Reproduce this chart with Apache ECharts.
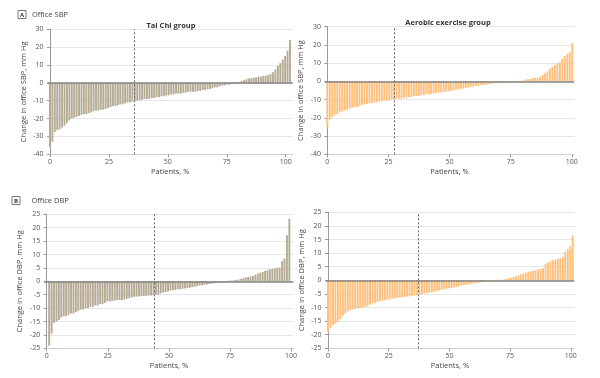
<!DOCTYPE html>
<html><head><meta charset="utf-8">
<script src="https://cdn.jsdelivr.net/npm/echarts@6/dist/echarts.min.js"></script>
<style>html,body{margin:0;padding:0;background:#fff}#c{width:600px;height:378px}</style>
</head><body><div id="c"></div>
<script>
// ---- data ----
const panelTitles = ['Tai Chi group', 'Aerobic exercise group', '', ''];
const panelLetters = ['A', 'B'];
const panelHeads = ['Office SBP', 'Office DBP'];
const yAxisNames = ['Change in office SBP, mm Hg', 'Change in office SBP, mm Hg', 'Change in office DBP, mm Hg', 'Change in office DBP, mm Hg'];
const xAxisName = 'Patients, %';
const xTicks = [0, 25, 50, 75, 100];
const sbpRange = [-40, 30, 10];
const dbpRange = [-25, 25, 5];
// patient-percentage span of the first and last bar in each panel
const pctStart = [0, 0, 1, 0];
const pctEnd = [101.8, 100.2, 99.3, 100.8];
// dashed reference line (patient %)
const dashedAt = [35.9, 27.4, 44, 37];

const taiChiSBP = [-36,-33,-27.5,-26.5,-26,-25,-24,-22.5,-21,-20,
-19.5,-19,-18.5,-18,-17.5,-17.5,-17,-16.5,-16,-15.5,
-15.5,-15,-15,-14.5,-14,-13.5,-13,-13,-12.5,-12,
-12,-11.5,-11,-11,-10.5,-10,-10,-9.5,-9.5,-9,
-9,-9,-8.5,-8.5,-8,-8,-7.5,-7.5,-7,-7,
-6.5,-6.5,-6,-6,-6,-5.5,-5.5,-5,-5,-5,
-5,-4.5,-4.5,-4,-4,-3.5,-3.5,-3,-2.5,-2.5,
-2,-1.5,-1.5,-1,-1,-0.5,-0.5,0.5,0.5,1,
1.5,2,2.5,2.5,3,3,3.5,3.5,4,4,
4.5,5,6,7.5,9.5,11,13,15,18,24];

const aerobicSBP = [-25,-21,-19.5,-18.5,-18,-17,-16.5,-16,-15.5,-15,
-14.5,-14,-14,-13.5,-13,-12.5,-12.5,-12,-12,-11.5,
-11.5,-11,-11,-10.5,-10.5,-10.5,-10,-10,-9.5,-9.5,
-9.5,-9,-9,-8.5,-8.5,-8,-8,-8,-7.5,-7.5,
-7,-7,-7,-6.5,-6.5,-6,-6,-6,-5.5,-5.5,
-5,-5,-4.5,-4.5,-4,-4,-3.5,-3.5,-3,-3,
-2.5,-2.5,-2,-2,-2,-1.5,-1.5,-1,-1,-1,
-0.8,-0.6,-0.5,-0.5,-0.4,-0.3,-0.2,0.2,0.3,0.5,
1,1.3,1.5,1.8,2,2,2.5,3.5,4.5,5.5,
7,8,9,10,10.5,12.5,14,15,16,21];

const taiChiDBP = [-24,-19.5,-15.5,-15,-14.5,-13.5,-13,-13,-12.5,-12,
-12,-11.5,-11,-10.5,-10.5,-10,-10,-9.5,-9.5,-9,
-9,-8.5,-8.5,-8,-7.5,-7.5,-7.3,-7.2,-7,-7,
-7,-6.8,-6.5,-6.3,-6,-5.8,-5.7,-5.6,-5.5,-5.5,
-5.4,-5.3,-5.3,-5.2,-5,-5,-4.5,-4.2,-4,-3.8,
-3.5,-3.3,-3.2,-3,-3,-2.8,-2.7,-2.5,-2.4,-2.2,
-2,-1.8,-1.6,-1.5,-1.3,-1.2,-1,-0.9,-0.8,-0.6,
-0.5,-0.4,-0.3,-0.2,0.2,0.3,0.4,0.5,0.7,0.9,
1.2,1.5,1.6,1.8,2,2.5,2.9,3.2,3.5,3.9,
4.2,4.4,4.6,4.8,5,5.1,7.5,8.5,17.2,23.4];

const aerobicDBP = [-19,-17.5,-16.5,-16,-15.3,-14.2,-13,-12.2,-11.5,-11,
-10.7,-10.5,-10.3,-10.1,-10,-9.8,-9.5,-9,-8.6,-8.3,
-8,-7.7,-7.5,-7.3,-7.1,-7,-6.8,-6.6,-6.5,-6.3,
-6.2,-6.1,-6,-5.9,-5.7,-5.6,-5.5,-5.3,-5.1,-4.9,
-4.7,-4.5,-4.4,-4.2,-4,-3.8,-3.5,-3.3,-3.1,-3,
-2.8,-2.6,-2.4,-2.2,-2,-1.8,-1.6,-1.5,-1.3,-1.2,
-1,-0.9,-0.7,-0.6,-0.4,-0.3,-0.2,-0.1,0.1,0.2,
0.2,0.3,0.5,0.8,1,1.2,1.5,1.8,2.2,2.5,
2.8,3.1,3.3,3.5,3.8,4,4.1,4.5,6,6.5,
7,7.3,7.6,7.9,8.1,8.5,10.5,11.5,12.5,16.5];

// ---- layout / style ----
const FONT = 'Open Sans';
const taiColor = '#b5aa94';
const aeroColor = '#fcc07c';
const panels = [
  {vals: taiChiSBP, color: taiColor, range: sbpRange, grid: {left: 47.6, top: 29.3, width: 245.2, height: 125}, xmin: -1, xmax: 103},
  {vals: aerobicSBP, color: aeroColor, range: sbpRange, grid: {left: 324.9, top: 26.7, width: 249.3, height: 127.6}, xmin: -1, xmax: 101},
  {vals: taiChiDBP, color: taiColor, range: dbpRange, grid: {left: 44.3, top: 214.3, width: 249.2, height: 134}, xmin: -1, xmax: 101},
  {vals: aerobicDBP, color: aeroColor, range: dbpRange, grid: {left: 325.6, top: 212.3, width: 248.8, height: 136}, xmin: -1, xmax: 101.5}
];

const grids = [], xAxes = [], yAxes = [], series = [], titles = [];
panels.forEach((p, k) => {
  grids.push(p.grid);
  xAxes.push({
    type: 'value', gridIndex: k, min: p.xmin, max: p.xmax,
    name: xAxisName, nameLocation: 'middle', nameGap: 14,
    nameTextStyle: {fontFamily: FONT, fontSize: 7.5, color: '#444'},
    axisLine: {show: true, onZero: false, lineStyle: {color: '#cfcfcf', width: 1}},
    axisTick: {show: true, customValues: xTicks, length: 3, lineStyle: {color: '#999'}},
    axisLabel: {customValues: xTicks, fontFamily: FONT, fontSize: 7, color: '#555', margin: 4},
    splitLine: {show: false}
  });
  yAxes.push({
    type: 'value', gridIndex: k, min: p.range[0], max: p.range[1], interval: p.range[2],
    name: yAxisNames[k], nameLocation: 'middle', nameGap: 20, nameRotate: 90,
    nameTextStyle: {fontFamily: FONT, fontSize: 7.5, color: '#444'},
    axisLine: {show: true, lineStyle: {color: '#999', width: 1}},
    axisTick: {show: true, length: 3, lineStyle: {color: '#999'}},
    axisLabel: {fontFamily: FONT, fontSize: 7, color: '#555', margin: 4},
    splitLine: {show: true, lineStyle: {color: '#e6e6e6', width: 1}}
  });
  const n = p.vals.length;
  const step = (pctEnd[k] - pctStart[k]) / (n - 1);
  series.push({
    type: 'bar', xAxisIndex: k, yAxisIndex: k,
    data: p.vals.map((v, i) => [pctStart[k] + i * step, v]),
    barWidth: 1.9,
    itemStyle: {color: p.color},
    silent: true, animation: false,
    markLine: {
      silent: true, symbol: 'none', label: {show: false}, animation: false,
      data: [
        {yAxis: 0, lineStyle: {color: '#858585', width: 1.6, type: 'solid'}},
        {xAxis: dashedAt[k], lineStyle: {color: '#666', width: 1, type: [2, 2]}}
      ]
    }
  });
});

titles.push({text: panelTitles[0], left: 166, top: 17, textAlign: 'center',
  textStyle: {fontFamily: FONT, fontSize: 7.5, fontWeight: 'bold', color: '#333'}});
titles.push({text: panelTitles[1], left: 443, top: 14, textAlign: 'center',
  textStyle: {fontFamily: FONT, fontSize: 7.5, fontWeight: 'bold', color: '#333'}});

const graphics = [];
const heads = [{bx: 18, by: 10.5, tx: 32, ty: 15}, {bx: 12, by: 196.5, tx: 31.5, ty: 200.5}];
heads.forEach((h, j) => {
  graphics.push({type: 'rect', shape: {x: h.bx, y: h.by, width: 8, height: 8},
    style: {fill: '#fff', stroke: '#555', lineWidth: 0.8}});
  graphics.push({type: 'text', x: h.bx + 4, y: h.by + 4.3,
    style: {text: panelLetters[j], fontFamily: FONT, fontSize: 6, fontWeight: 'bold', fill: '#333', align: 'center', verticalAlign: 'middle'}});
  graphics.push({type: 'text', x: h.tx, y: h.ty,
    style: {text: panelHeads[j], fontFamily: FONT, fontSize: 7.5, fill: '#444', align: 'left', verticalAlign: 'middle'}});
});

const chart = echarts.init(document.getElementById('c'), null, {renderer: 'canvas'});
chart.setOption({
  animation: false,
  backgroundColor: '#fff',
  title: titles,
  grid: grids,
  xAxis: xAxes,
  yAxis: yAxes,
  series: series,
  graphic: graphics
});
</script>
</body></html>
